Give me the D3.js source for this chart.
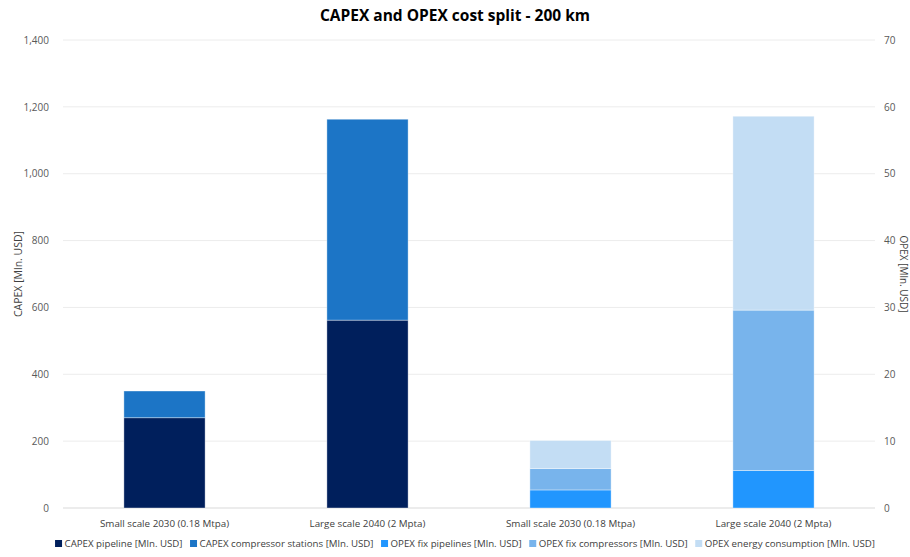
<!DOCTYPE html>
<html><head><meta charset="utf-8">
<script src="https://cdn.jsdelivr.net/npm/d3@7"></script>
<style>body{margin:0;background:#fff;} text{font-family:"Open Sans","Noto Sans",sans-serif;}</style>
</head><body><svg id="c" width="910" height="557"></svg>
<script>
const categories = ["Small scale 2030 (0.18 Mtpa)", "Large scale 2040 (2 Mpta)", "Small scale 2030 (0.18 Mtpa)", "Large scale 2040 (2 Mpta)"];
const seriesNames = ["CAPEX pipeline [Mln. USD]", "CAPEX compressor stations [Mln. USD]", "OPEX fix pipelines [Mln. USD]", "OPEX fix compressors [Mln. USD]", "OPEX energy consumption [Mln. USD]"];
const colors = ["#001f5c", "#1c75c6", "#2196fe", "#78b4ec", "#c3ddf4"];
// CAPEX (left axis) for categories 0,1; OPEX (right axis) for categories 2,3
const capexPipeline = [270, 562, 0, 0];
const capexCompressor = [80, 601, 0, 0];
const opexPipelines = [0, 0, 2.7, 5.6];
const opexCompressors = [0, 0, 3.2, 24.0];
const opexEnergy = [0, 0, 4.2, 29.0];
const leftTicks = [0, 200, 400, 600, 800, 1000, 1200, 1400];
const rightTicks = [0, 10, 20, 30, 40, 50, 60, 70];

const svg = d3.select("#c");
const L = 63, R = 875, T = 40, B = 508;
const x = d3.scaleBand().domain(d3.range(categories.length)).range([L, R]).paddingInner(0.6).paddingOuter(0.3);
const yL = d3.scaleLinear().domain([0, 1400]).range([B, T]);
const yR = d3.scaleLinear().domain([0, 70]).range([B, T]);

svg.append("text").attr("x", 455).attr("y", 21).attr("text-anchor", "middle")
  .style("font-size", "15.5px").style("font-weight", "bold").attr("fill", "#000")
  .text("CAPEX and OPEX cost split - 200 km");

// gridlines
svg.append("g").selectAll("line").data(leftTicks).join("line")
  .attr("x1", L).attr("x2", R).attr("y1", d => yL(d)).attr("y2", d => yL(d))
  .attr("stroke", d => d === 0 ? "#d9d9d9" : "#ececec").attr("stroke-width", 1);

// left axis
const gl = svg.append("g").attr("transform", `translate(${L - 11},0)`)
  .call(d3.axisLeft(yL).tickValues(leftTicks).tickSize(0).tickFormat(d3.format(",")));
gl.select(".domain").remove();
gl.selectAll("text").attr("fill", "#595959").style("font-size", "10px");

const gr = svg.append("g").attr("transform", `translate(${R + 6},0)`)
  .call(d3.axisRight(yR).tickValues(rightTicks).tickSize(0));
gr.select(".domain").remove();
gr.selectAll("text").attr("fill", "#595959").style("font-size", "10px");

// x labels
svg.append("g").selectAll("text").data(categories).join("text")
  .attr("x", (d, i) => x(i) + x.bandwidth() / 2).attr("y", 527).attr("text-anchor", "middle")
  .attr("fill", "#404040").style("font-size", "9.8px").text(d => d);

// axis titles
svg.append("text").attr("transform", "translate(22,274) rotate(-90)").attr("text-anchor", "middle")
  .attr("fill", "#404040").style("font-size", "10.5px").text("CAPEX [Mln. USD]");
svg.append("text").attr("transform", "translate(900,274) rotate(90)").attr("text-anchor", "middle")
  .attr("fill", "#404040").style("font-size", "10px").text("OPEX [Mln. USD]");

// stacked bars
const rows = categories.map((c, i) => ({i, v: [capexPipeline[i], capexCompressor[i], opexPipelines[i], opexCompressors[i], opexEnergy[i]]}));
const stack = d3.stack().keys(d3.range(5)).value((d, k) => d.v[k]);
const layers = stack(rows);
layers.forEach((layer, k) => {
  const y = k < 2 ? yL : yR;
  svg.append("g").selectAll("rect").data(layer.filter(d => d[1] - d[0] > 0)).join("rect")
    .attr("x", d => x(d.data.i)).attr("width", x.bandwidth())
    .attr("y", d => y(d[1])).attr("height", d => y(d[0]) - y(d[1]))
    .attr("fill", colors[k]).attr("stroke", "#ffffff").attr("stroke-opacity", 0.5).attr("stroke-width", 0.75);
});

// legend: laid out sequentially, centred
const lg = svg.append("g");
const items = lg.selectAll("g").data(seriesNames).join("g");
items.append("rect").attr("x", 0).attr("y", -7).attr("width", 7).attr("height", 7).attr("fill", (d, i) => colors[i]);
items.append("text").attr("x", 9.5).attr("y", 0).attr("fill", "#404040").style("font-size", "9.7px").text(d => d);
let cx = 0; const gap = 7.5;
items.each(function() {
  const w = this.getBBox().width;
  d3.select(this).attr("transform", `translate(${cx},547)`);
  cx += w + gap;
});
const total = cx - gap;
lg.attr("transform", `translate(${(53 + 877) / 2 - total / 2},0)`);
</script></body></html>
